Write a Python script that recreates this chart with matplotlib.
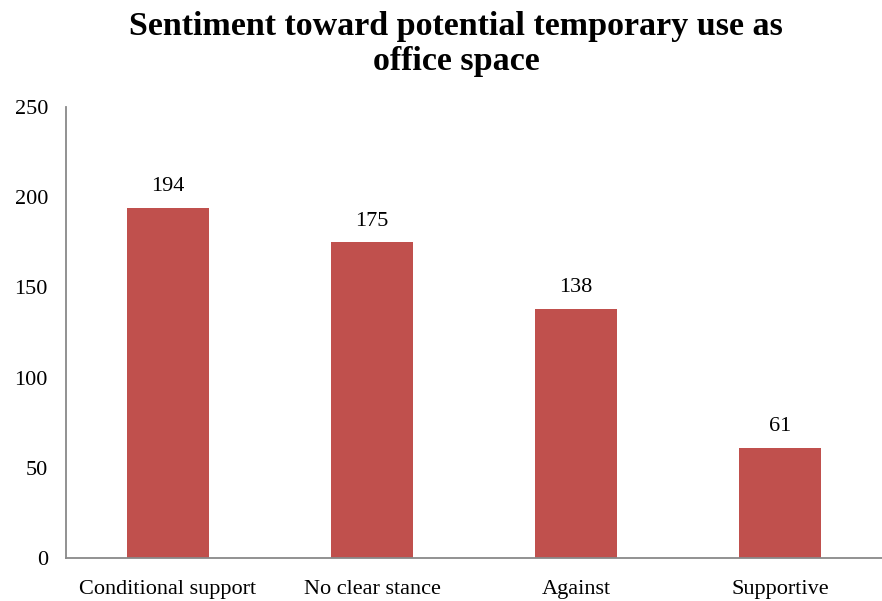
import matplotlib
matplotlib.use("Agg")
import matplotlib.pyplot as plt

categories = ["Conditional support", "No clear stance", "Against", "Supportive"]
counts = [194, 175, 138, 61]
y_ticks = [0, 50, 100, 150, 200, 250]

plt.rcParams["font.family"] = ["Liberation Serif", "DejaVu Serif"]

fig = plt.figure(figsize=(8.82, 6.01), dpi=100)
ax = fig.add_axes([0.0748, 0.0715, 0.9252, 0.7505])

x = range(len(categories))
bars = ax.bar(x, counts, width=0.4, color="#C0504D")
for xi, v in zip(x, counts):
    ax.text(xi, v + 6.5, str(v), ha="center", va="bottom", fontsize=16)

ax.set_xlim(-0.5, 3.5)
ax.set_ylim(0, 250)
ax.set_yticks(y_ticks)
ax.set_xticks(list(x))
ax.set_xticklabels(categories)
ax.tick_params(axis="both", length=0, labelsize=16)
ax.tick_params(axis="y", pad=13)
ax.tick_params(axis="x", pad=16)
for s in ["top", "right"]:
    ax.spines[s].set_visible(False)
for s in ["left", "bottom"]:
    ax.spines[s].set_color("#898989")
    ax.spines[s].set_linewidth(1.3)

fig.text(0.517, 0.982, "Sentiment toward potential temporary use as\noffice space",
         ha="center", va="top", fontsize=24.5, fontweight="bold", linespacing=1.17)

fig.savefig("out.png", dpi=100)
